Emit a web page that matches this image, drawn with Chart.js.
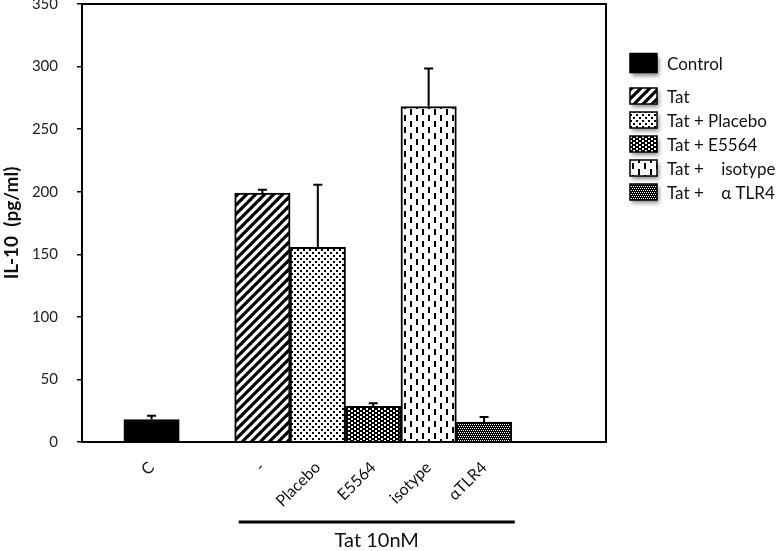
<!DOCTYPE html>
<html><head><meta charset="utf-8">
<script src="https://cdn.jsdelivr.net/npm/chart.js@4.4.1/dist/chart.umd.min.js"></script>
<style>html,body{margin:0;padding:0;background:#fff;}#wrap{width:776px;height:551px;}</style>
</head><body><div id="wrap"><canvas id="c" width="776" height="551"></canvas></div>
<script>
// ---- data ----
const categories = ['C', '-', 'Placebo', 'E5564', 'isotype', 'αTLR4'];
const categorySlots = [0, 2, 3, 4, 5, 6];
const seriesNames = ['Control', 'Tat', 'Tat + Placebo', 'Tat + E5564', 'Tat +    isotype', 'Tat +    α TLR4'];
const il10Values = [18, 199, 155.5, 28.5, 268, 16];
const il10Errors = [3, 2.5, 50, 2.5, 30.5, 4];
const yTickValues = [0, 50, 100, 150, 200, 250, 300, 350];
const yTitle = 'IL-10  (pg/ml)';
const groupLabel = 'Tat 10nM';

// ---- patterns ----
function makePattern(w, h, draw) {
  const c = document.createElement('canvas'); c.width = w; c.height = h;
  const g = c.getContext('2d');
  g.fillStyle = '#fff'; g.fillRect(0, 0, w, h);
  g.fillStyle = '#000'; g.strokeStyle = '#000';
  draw(g, w, h);
  return g.createPattern(c, 'repeat');
}
const fills = [
  '#000',
  makePattern(9, 9, (g) => { g.lineWidth = 3.2; for (const o of [-9, 0, 9]) { g.beginPath(); g.moveTo(o - 2, 11); g.lineTo(o + 11, -2); g.stroke(); } }),
  makePattern(6, 6, (g) => { g.fillRect(0, 0, 2, 2); g.fillRect(3, 3, 2, 2); }),
  makePattern(6, 4, (g) => { g.fillRect(0, 0, 6, 4); g.fillStyle = '#fff'; g.fillRect(0, 0, 2, 2); g.fillRect(3, 2, 2, 2); }),
  makePattern(12, 12, (g) => { g.fillRect(2, 1, 2, 6); g.fillRect(8, 7, 2, 5); g.fillRect(8, 0, 2, 1); }),
  makePattern(4, 4, (g) => { g.fillRect(0, 0, 4, 4); g.fillStyle = '#fff'; g.fillRect(0, 0, 1, 1); g.fillRect(2, 0, 1, 1); g.fillRect(1, 2, 1, 1); g.fillRect(3, 2, 1, 1); })
];

Chart.defaults.font.family = 'Lato';
Chart.defaults.color = '#222';

const extras = {
  id: 'extras',
  afterDatasetsDraw(chart) {
    const ctx = chart.ctx, ys = chart.scales.y, a = chart.chartArea;
    ctx.save();
    ctx.strokeStyle = '#000'; ctx.lineWidth = 2;
    chart.data.datasets.forEach((ds, i) => {
      const el = chart.getDatasetMeta(i).data[0];
      const top = ys.getPixelForValue(il10Values[i] + il10Errors[i]);
      ctx.beginPath();
      ctx.moveTo(el.x, el.y); ctx.lineTo(el.x, top);
      ctx.moveTo(el.x - 4.5, top); ctx.lineTo(el.x + 4.5, top);
      ctx.stroke();
    });
    ctx.strokeRect(a.left, a.top, a.right - a.left, a.bottom - a.top);
    ctx.restore();
  },
  afterDraw(chart) {
    const ctx = chart.ctx;
    ctx.save();
    // group bracket
    const first = chart.getDatasetMeta(1).data[0], last = chart.getDatasetMeta(5).data[0];
    const x0 = first.x - first.width / 2 + 4, x1 = last.x + last.width / 2 + 3;
    ctx.strokeStyle = '#000'; ctx.lineWidth = 3;
    ctx.beginPath(); ctx.moveTo(x0, 522); ctx.lineTo(x1, 522); ctx.stroke();
    ctx.fillStyle = '#111'; ctx.font = '20px Lato'; ctx.textAlign = 'center'; ctx.textBaseline = 'middle';
    ctx.fillText(groupLabel, (x0 + x1) / 2, 541);
    // legend
    const rows = [65, 98, 122, 146, 170, 194];
    ctx.textAlign = 'left'; ctx.font = '17px Lato';
    chart.data.datasets.forEach((ds, i) => {
      const h = i === 0 ? 19 : 16, yc = rows[i] - 2;
      ctx.save();
      ctx.shadowColor = 'rgba(0,0,0,0.45)'; ctx.shadowBlur = 4; ctx.shadowOffsetX = 2; ctx.shadowOffsetY = 3;
      ctx.fillStyle = ds.backgroundColor;
      ctx.fillRect(630, yc - h / 2, 27, h);
      ctx.restore();
      ctx.strokeStyle = '#000'; ctx.lineWidth = 1.5;
      ctx.strokeRect(630, yc - h / 2, 27, h);
      ctx.fillStyle = '#111';
      ctx.fillText(ds.label, 667, rows[i]);
    });
    ctx.restore();
  }
};

new Chart(document.getElementById('c'), {
  type: 'bar',
  data: {
    datasets: seriesNames.map((name, i) => ({
      label: name,
      data: [{ x: categorySlots[i], y: il10Values[i] }],
      backgroundColor: fills[i],
      borderColor: '#000',
      borderWidth: 2,
      grouped: false,
      barPercentage: 1,
      categoryPercentage: 1
    }))
  },
  options: {
    responsive: false,
    animation: false,
    devicePixelRatio: 1,
    layout: { padding: { left: 0, top: 4, right: 170, bottom: 0 } },
    plugins: { legend: { display: false }, tooltip: { enabled: false } },
    scales: {
      x: {
        type: 'linear', min: -1.255, max: 8.2, offset: false,
        afterBuildTicks: (s) => { s.ticks = categorySlots.map(v => ({ value: v })); },
        afterFit: (s) => { s.height = 109; s.paddingLeft = 0; s.paddingRight = 0; },
        ticks: {
          autoSkip: false, minRotation: 45, maxRotation: 45, padding: 16,
          font: { size: 16 }, color: '#111',
          callback: (v) => { const k = categorySlots.indexOf(v); return k >= 0 ? categories[k] : ''; }
        },
        grid: { display: false, drawTicks: false },
        border: { display: true, color: '#000', width: 2 }
      },
      y: {
        min: 0, max: 350,
        afterBuildTicks: (s) => { s.ticks = yTickValues.map(v => ({ value: v })); },
        afterFit: (s) => { s.width = 82; s.paddingTop = 0; s.paddingBottom = 0; },
        ticks: { padding: 19, font: { size: 15 }, color: '#222' },
        grid: { display: true, drawOnChartArea: false, drawTicks: true, tickLength: 5, color: '#000', lineWidth: 1.5 },
        border: { display: true, color: '#000', width: 2 },
        title: { display: true, text: yTitle, font: { size: 19, weight: 'bold' }, color: '#111', padding: { top: 0, bottom: 0 } }
      }
    }
  },
  plugins: [extras]
});
</script></body></html>
